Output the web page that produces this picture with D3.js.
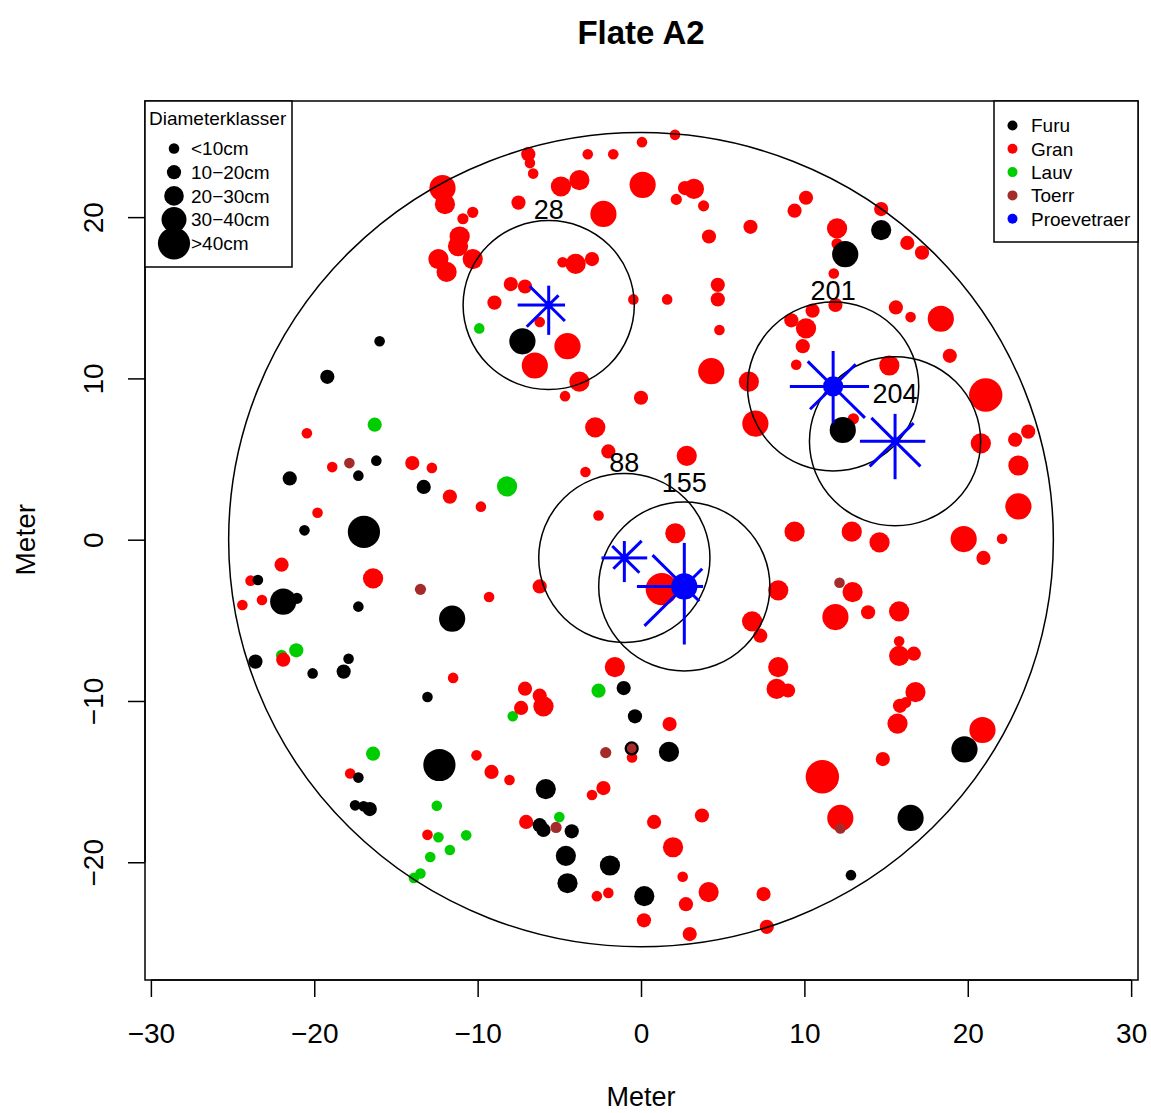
<!DOCTYPE html>
<html>
<head>
<meta charset="utf-8">
<script src="https://cdn.jsdelivr.net/npm/d3@7"></script>
<style>
body { margin: 0; background: #fff; }
text { font-family: "Liberation Sans", Arial, Helvetica, sans-serif; fill: #000; }
</style>
</head>
<body>
<div id="chart"></div>
<script>
// trees: [x (m), y (m), diameter (cm)]
var furu = [
    [-16.0,12.3,8], [-19.2,10.1,14], [-7.26,12.3,34], [14.7,19.2,24], [12.5,17.7,34],
    [12.35,6.8,34], [19.8,-13.0,34], [16.5,-17.25,34], [12.85,-20.8,8],
    [-16.2,4.9,8], [-17.3,3.97,8], [-21.5,3.8,14], [-13.3,3.27,14], [-20.6,0.58,8],
    [-16.96,0.48,44], [-23.45,-2.5,8], [-21.9,-3.84,34], [-21.06,-3.64,9], [-17.3,-4.15,8],
    [-11.56,-4.9,34], [-23.6,-7.56,14], [-17.9,-7.38,8], [-18.2,-8.18,14], [-20.1,-8.29,8],
    [-13.07,-9.75,8], [-12.34,-13.97,44], [-17.3,-14.75,8], [-17.5,-16.47,8], [-16.98,-16.53,8],
    [-16.6,-16.7,14], [-1.06,-9.2,14], [-0.37,-10.95,14], [1.71,-13.16,24], [-5.83,-15.46,24],
    [-6.2,-17.7,14], [-5.97,-18.0,14], [-4.24,-18.08,14], [-4.6,-19.6,24], [-1.9,-20.2,24],
    [-4.5,-21.3,24], [0.2,-22.1,24], [-0.57,-12.94,14]
];
var gran = [
    [-12.15,21.8,34], [-12.0,20.8,24], [-10.3,20.3,9], [-10.9,19.9,9], [-11.1,18.8,24],
    [-11.2,18.2,24], [-10.3,17.4,24], [-12.4,17.4,24], [-11.9,16.6,24], [-7.97,15.85,14],
    [-8.97,14.7,14],
    [2.08,25.1,8], [0.06,24.65,8], [-6.9,23.9,14], [-6.8,23.35,8], [-6.6,22.7,8],
    [-3.26,23.9,8], [-1.7,23.9,8], [-4.9,21.9,24], [-3.77,22.3,24], [0.1,22.0,34],
    [2.69,21.8,14], [3.24,21.75,24], [2.16,21.1,9], [3.83,20.7,9], [-7.5,20.9,14],
    [-2.3,20.2,34], [6.7,19.4,14], [4.16,18.8,14], [-4.8,17.2,8], [-4.0,17.1,24],
    [-3.0,17.4,14], [-7.1,15.7,14], [-6.2,13.5,8], [-4.5,12.0,34], [-6.5,10.8,34],
    [-3.77,9.8,24], [-4.65,8.9,8], [-0.47,14.9,8], [1.6,14.9,8], [4.7,15.8,14],
    [4.7,14.9,14], [4.8,13.0,8], [4.3,10.45,34], [6.6,9.8,24], [0.0,8.8,14],
    [10.1,21.2,14], [9.4,20.4,14], [14.7,20.5,14], [12.0,19.3,24], [12.0,18.35,9],
    [16.3,18.4,14], [17.2,17.8,14], [11.8,16.5,8], [11.9,14.55,14], [15.6,14.4,14],
    [16.5,13.8,8], [18.35,13.7,34], [10.5,14.2,14], [9.2,13.6,14], [10.1,13.1,24],
    [9.9,12.0,14], [9.5,10.85,8], [18.9,11.4,14], [15.2,10.8,24], [21.1,8.97,46],
    [13.0,7.5,9], [20.8,5.97,24], [22.9,6.2,14], [23.7,6.7,14], [23.1,4.6,24],
    [23.1,2.06,34], [19.75,0.04,34], [22.1,0.06,8], [20.96,-1.13,14], [9.4,0.5,24],
    [12.9,0.5,24], [14.6,-0.17,24], [12.95,-3.25,24], [8.4,-3.14,24], [11.9,-4.8,34],
    [13.9,-4.5,14], [15.8,-4.45,24], [15.8,-6.3,8], [15.8,-7.2,24], [16.7,-7.07,14],
    [8.4,-7.9,24],
    [8.3,-9.25,24], [9.0,-9.35,14], [16.8,-9.45,24], [16.2,-10.1,9], [15.85,-10.3,14],
    [15.7,-11.4,24], [20.9,-11.8,34], [14.8,-13.6,14], [11.1,-14.7,46], [12.2,-17.25,34],
    [7.7,-24.0,14],
    [7.0,7.2,34], [-2.8,6.96,24], [-2.0,5.47,14], [2.8,5.2,24], [-3.4,4.2,8],
    [-2.6,1.5,8], [2.1,0.4,24], [1.27,-3.06,44], [-6.2,-2.9,14], [-9.3,-3.55,8],
    [6.8,-5.06,24], [7.3,-5.95,14], [-1.6,-7.9,24],
    [-20.45,6.6,8], [-18.9,4.5,8], [-14.0,4.75,14], [-12.8,4.45,8], [-11.7,2.67,14],
    [-9.8,2.05,8], [-19.8,1.67,8], [-22.0,-1.55,14], [-23.9,-2.54,8], [-16.4,-2.4,24],
    [-24.4,-4.05,8], [-23.2,-3.74,8], [-21.9,-7.44,14], [-11.5,-8.57,8],
    [-10.07,-13.37,8], [-9.15,-14.4,14], [-8.05,-14.9,8], [-17.8,-14.5,8], [-13.07,-18.3,8],
    [-7.1,-9.24,14], [-6.2,-9.67,14], [-5.97,-10.33,24], [-7.34,-10.43,14], [1.75,-11.43,14],
    [-0.55,-13.5,8], [-2.3,-15.4,14], [-3.0,-15.83,8], [-7.03,-17.5,14], [0.8,-17.5,14],
    [3.73,-17.1,14], [1.96,-19.07,24], [2.55,-20.9,8], [4.14,-21.85,24], [7.5,-21.97,14],
    [-2.7,-22.1,8], [-2.0,-21.9,8], [2.75,-22.6,14], [0.18,-23.6,14], [2.98,-24.45,14]
];
var lauv = [
    [-9.9,13.1,8], [-8.2,3.3,24], [-16.3,7.13,14], [-22.0,-7.17,9], [-21.1,-6.86,14],
    [-7.85,-10.95,8], [-2.6,-9.36,14], [-16.4,-13.27,14], [-12.5,-16.5,8], [-12.4,-18.45,8],
    [-10.7,-18.33,8], [-11.7,-19.24,8], [-12.9,-19.67,8], [-13.5,-20.7,8], [-13.9,-20.97,8],
    [-5.0,-17.2,8]
];
var toerr = [
    [-17.85,4.75,8], [-13.5,-3.08,9], [12.15,-2.67,8], [12.2,-17.9,8], [-2.16,-13.2,9],
    [-0.57,-12.94,9], [-5.2,-17.84,9]
];

// sample trees (proevetraer) with crown rays E, NE, N, NW, W, SW, S, SE in meters
var sampleIds = [28, 88, 155, 201, 204];
var sampleX = [-5.65, -1.02, 2.65, 11.76, 15.55];
var sampleY = [14.55, -1.13, -2.9, 9.5, 6.1];
var sampleD = [4, 4, 34, 24, 4];
var sampleLabelY = [20.5, 4.8, 3.55, 15.45, 9.05];
var sampleRays = [
    [1.0, 0.85, 1.2, 1.65, 1.9, 1.9, 1.85, 1.4],
    [1.4, 1.5, 1.05, 1.05, 1.4, 0.95, 1.5, 1.3],
    [1.15, 1.55, 2.7, 2.75, 2.9, 3.45, 3.6, 1.3],
    [2.2, 1.95, 2.2, 2.2, 2.65, 2.0, 2.25, 2.75],
    [1.85, 1.6, 1.7, 2.05, 2.15, 2.2, 2.35, 2.2]
];

var plotRadius = 25.24;
var sampleRadius = 5.24;

var xTicks = [-30, -20, -10, 0, 10, 20, 30];
var yTicks = [-20, -10, 0, 10, 20];
var sizeClasses = ["<10cm", "10\u221220cm", "20\u221230cm", "30\u221240cm", ">40cm"];
var sizeClassD = [8, 14, 23, 32, 44];
var speciesNames = ["Furu", "Gran", "Lauv", "Toerr", "Proevetraer"];
var speciesColors = ["#000000", "#ff0000", "#00cd00", "#a52a2a", "#0000ff"];

var width = 1151, height = 1113;
var box = {left: 145, right: 1138, top: 101, bottom: 980};

var x = d3.scaleLinear().domain([-30.36, 30.42]).range([box.left, box.right]);
var y = d3.scaleLinear().domain([-27.3, 27.2]).range([box.bottom, box.top]);
var r = d3.scaleLinear().domain([0, 50]).range([2.9, 17.9]);

var svg = d3.select("#chart").append("svg")
    .attr("width", width)
    .attr("height", height);

// trees, drawn species by species
var layers = [[lauv, speciesColors[2]], [gran, speciesColors[1]], [furu, speciesColors[0]], [toerr, speciesColors[3]]];
layers.forEach(function(l){
    svg.append("g").selectAll("circle")
        .data(l[0])
        .enter().append("circle")
        .attr("cx", function(d){ return x(d[0]); })
        .attr("cy", function(d){ return y(d[1]); })
        .attr("r", function(d){ return r(d[2]); })
        .attr("fill", l[1]);
});
// black ring on the toerr tree that sits on a furu
svg.append("circle")
    .attr("cx", x(toerr[5][0])).attr("cy", y(toerr[5][1]))
    .attr("r", r(toerr[5][2]))
    .attr("fill", "none").attr("stroke", "#000").attr("stroke-width", 1.5);

// x and y px per meter differ a little, so use ellipses
function ring(cx, cy, rad){
    svg.append("ellipse")
        .attr("cx", x(cx))
        .attr("cy", y(cy))
        .attr("rx", x(cx + rad) - x(cx))
        .attr("ry", y(cy) - y(cy + rad))
        .attr("fill", "none")
        .attr("stroke", "#000")
        .attr("stroke-width", 1.5);
}
ring(0, 0, plotRadius);
sampleIds.forEach(function(id, i){ ring(sampleX[i], sampleY[i], sampleRadius); });

// sample trees
svg.append("g").selectAll("circle")
    .data(sampleIds)
    .enter().append("circle")
    .attr("cx", function(d, i){ return x(sampleX[i]); })
    .attr("cy", function(d, i){ return y(sampleY[i]); })
    .attr("r", function(d, i){ return r(sampleD[i]); })
    .attr("fill", speciesColors[4]);

sampleRays.forEach(function(rays, i){
    rays.forEach(function(len, k){
        var a = k * Math.PI / 4;
        svg.append("line")
            .attr("x1", x(sampleX[i]))
            .attr("y1", y(sampleY[i]))
            .attr("x2", x(sampleX[i] + len * Math.cos(a)))
            .attr("y2", y(sampleY[i] + len * Math.sin(a)))
            .attr("stroke", speciesColors[4])
            .attr("stroke-width", 3);
    });
});

svg.append("g").selectAll("text")
    .data(sampleIds)
    .enter().append("text")
    .attr("x", function(d, i){ return x(sampleX[i]); })
    .attr("y", function(d, i){ return y(sampleLabelY[i]); })
    .attr("dy", "0.36em")
    .attr("text-anchor", "middle")
    .style("font-size", "27px")
    .text(function(d){ return d; });

// plot box
svg.append("rect")
    .attr("x", box.left).attr("y", box.top)
    .attr("width", box.right - box.left).attr("height", box.bottom - box.top)
    .attr("fill", "none").attr("stroke", "#000").attr("stroke-width", 1.5);

// axes
var xAxis = d3.axisBottom(x).tickValues(xTicks).tickSize(17).tickPadding(26).tickSizeOuter(0);
var gx = svg.append("g")
    .attr("transform", "translate(0," + box.bottom + ")")
    .call(xAxis);
gx.select(".domain").remove();
gx.append("line")
    .attr("x1", x(xTicks[0])).attr("x2", x(xTicks[xTicks.length - 1]))
    .attr("stroke", "#000").attr("stroke-width", 1.5);
gx.selectAll(".tick line").attr("stroke-width", 1.5);
gx.selectAll(".tick text")
    .style("font-size", "28px")
    .style("font-family", "'Liberation Sans', Arial, sans-serif");

var yAxis = d3.axisLeft(y).tickValues(yTicks).tickSize(17).tickSizeOuter(0);
var gy = svg.append("g")
    .attr("transform", "translate(" + box.left + ",0)")
    .call(yAxis);
gy.select(".domain").remove();
gy.append("line")
    .attr("y1", y(yTicks[0])).attr("y2", y(yTicks[yTicks.length - 1]))
    .attr("stroke", "#000").attr("stroke-width", 1.5);
gy.selectAll(".tick line").attr("stroke-width", 1.5);
gy.selectAll(".tick text")
    .attr("x", null)
    .attr("dy", "0.36em")
    .attr("text-anchor", "middle")
    .attr("transform", "translate(-52,0) rotate(-90)")
    .style("font-size", "28px")
    .style("font-family", "'Liberation Sans', Arial, sans-serif");

// titles
svg.append("text")
    .attr("x", x(0)).attr("y", 44)
    .attr("text-anchor", "middle")
    .style("font-size", "33px").style("font-weight", "bold")
    .text("Flate A2");
svg.append("text")
    .attr("x", x(0)).attr("y", 1106)
    .attr("text-anchor", "middle")
    .style("font-size", "27px")
    .text("Meter");
svg.append("text")
    .attr("transform", "translate(25," + y(0) + ") rotate(-90)")
    .attr("dy", "0.36em")
    .attr("text-anchor", "middle")
    .style("font-size", "28px")
    .text("Meter");

// size legend
var lg = svg.append("g");
lg.append("rect")
    .attr("x", box.left).attr("y", box.top)
    .attr("width", 147).attr("height", 166)
    .attr("fill", "#fff").attr("stroke", "#000").attr("stroke-width", 1.5);
lg.append("text")
    .attr("x", 149).attr("y", 125)
    .style("font-size", "19px")
    .text("Diameterklasser");
sizeClasses.forEach(function(lab, i){
    var cy = 148.5 + i * 23.7;
    lg.append("circle")
        .attr("cx", 174).attr("cy", cy)
        .attr("r", r(sizeClassD[i]))
        .attr("fill", "#000");
    lg.append("text")
        .attr("x", 191).attr("y", cy)
        .attr("dy", "0.36em")
        .style("font-size", "19px")
        .text(lab);
});

// species legend
var sg = svg.append("g");
sg.append("rect")
    .attr("x", 994).attr("y", box.top)
    .attr("width", box.right - 994).attr("height", 141)
    .attr("fill", "#fff").attr("stroke", "#000").attr("stroke-width", 1.5);
speciesNames.forEach(function(name, i){
    var cy = 125.5 + i * 23.3;
    sg.append("circle")
        .attr("cx", 1012.5).attr("cy", cy)
        .attr("r", 5)
        .attr("fill", speciesColors[i]);
    sg.append("text")
        .attr("x", 1031).attr("y", cy)
        .attr("dy", "0.36em")
        .style("font-size", "19px")
        .text(name);
});
</script>
</body>
</html>
